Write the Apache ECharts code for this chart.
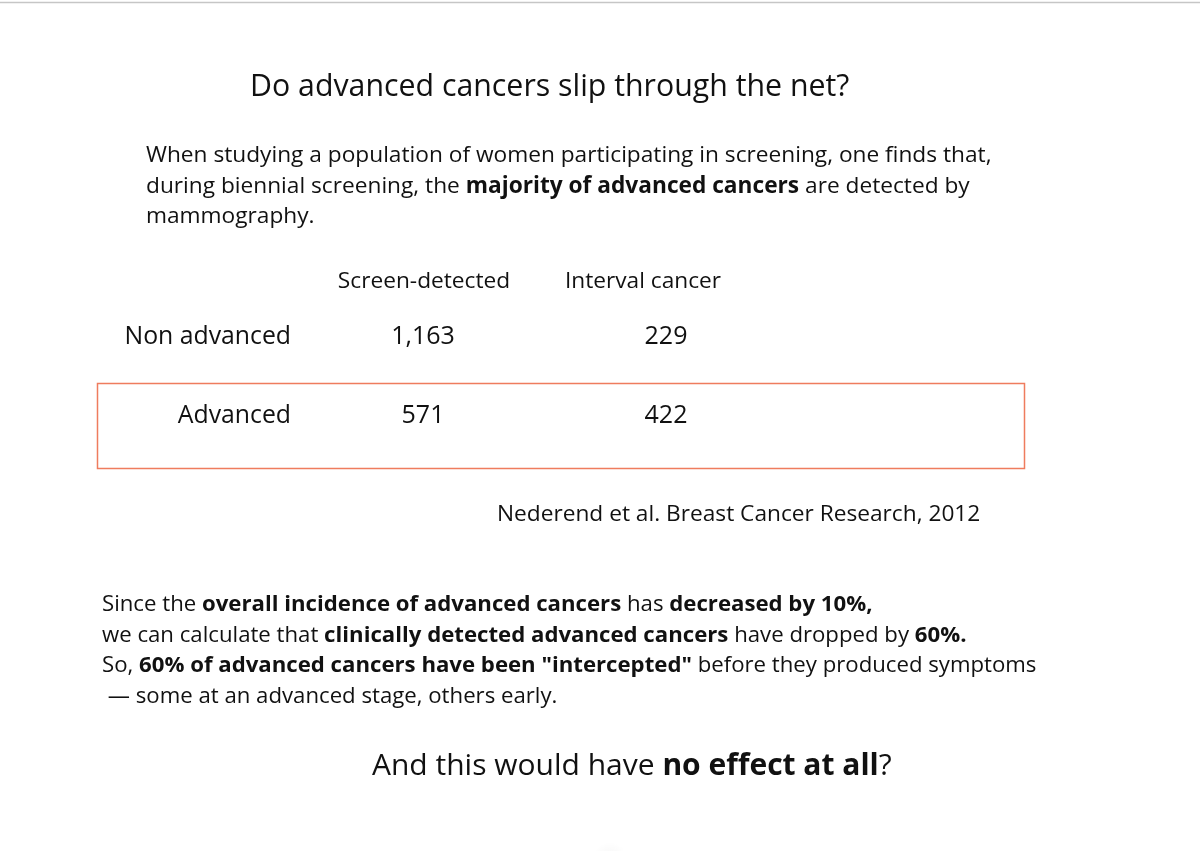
<!DOCTYPE html>
<html>
<head>
<meta charset="utf-8">
<title>Do advanced cancers slip through the net?</title>
<script src="https://cdn.jsdelivr.net/npm/echarts@6/dist/echarts.min.js"></script>
<style>
  html, body { margin: 0; padding: 0; background: #fff; }
  #chart { width: 1200px; height: 851px; }
</style>
</head>
<body>
<div id="chart"></div>
<script>
// table data
const stages = ["Non advanced", "Advanced"];
const detection = ["Screen-detected", "Interval cancer"];
const screenDetected = [1163, 571];
const intervalCancer = [229, 422];

// slide texts ({b|...} = bold)
const titleText = "Do advanced cancers slip through the net?";
const introLines = [
    "When studying a population of women participating in screening, one finds that,",
    "during biennial screening, the {b|majority of advanced cancers} are detected by",
    "mammography."
];
const sourceText = "Nederend et al. Breast Cancer Research, 2012";
const outroLines = [
    "Since the {b|overall incidence of advanced cancers} has {b|decreased by 10%,}",
    "we can calculate that {b|clinically detected advanced cancers} have dropped by {b|60%.}",
    "So, {b|60% of advanced cancers have been \"intercepted\"} before they produced symptoms",
    " \u2014 some at an advanced stage, others early."
];
const questionText = "And this would have {b|no effect at all}?";

const FONT = '"Open Sans", "DejaVu Sans", sans-serif';
const INK = "#111";

function fmt(n){
    return n.toLocaleString("en-US");
}

function textLine(str, x, y, size){
    return {
        type: "text",
        x: x,
        y: y,
        style: {
            text: str,
            fill: INK,
            fontFamily: FONT,
            fontSize: size,
            verticalAlign: "middle",
            rich: {
                b: { fontFamily: FONT, fontSize: size, fontWeight: "bold", fill: INK }
            }
        }
    };
}

const graphics = [];
graphics.push({
    type: "line",
    shape: { x1: 0, y1: 2.5, x2: 1200, y2: 2.5 },
    style: { stroke: "#c6c6c6", lineWidth: 1.5 }
});
graphics.push(textLine(titleText, 250, 87, 30.3));
introLines.forEach((l, i) => graphics.push(textLine(l, 146, 156 + i * 30.5, 22.7)));
graphics.push({
    type: "rect",
    shape: { x: 97.5, y: 383.5, width: 927, height: 85 },
    style: { fill: "none", stroke: "#ef7c5e", lineWidth: 1.5 }
});
graphics.push(textLine(sourceText, 497, 515, 22.7));
outroLines.forEach((l, i) => graphics.push(textLine(l, 102, 605 + i * 30.5, 22.2)));
graphics.push(textLine(questionText, 372, 766, 30));
graphics.push({
    type: "ellipse",
    shape: { cx: 610, cy: 860, rx: 300, ry: 18 },
    style: {
        fill: {
            type: "radial", x: 0.5, y: 0.5, r: 0.5,
            colorStops: [
                { offset: 0, color: "rgba(0,0,0,0.04)" },
                { offset: 1, color: "rgba(0,0,0,0)" }
            ]
        }
    },
    silent: true
});

const cells = [];
stages.forEach((s, r) => {
    cells.push([detection[0], s, screenDetected[r]]);
    cells.push([detection[1], s, intervalCancer[r]]);
});

const chart = echarts.init(document.getElementById("chart"), null, { renderer: "canvas" });
chart.setOption({
    backgroundColor: "#ffffff",
    animation: false,
    textStyle: { fontFamily: FONT },
    grid: { left: 301.5, top: 297.5, width: 486, height: 158 },
    xAxis: {
        type: "category",
        position: "top",
        data: detection,
        axisLine: { show: false },
        axisTick: { show: false },
        splitLine: { show: false },
        axisLabel: {
            margin: 4,
            formatter: v => v === detection[0] ? "{a|" + v + "}" : "{c|" + v + "}",
            rich: {
                a: { fontFamily: FONT, fontSize: 22.7, color: INK, padding: [0, 0, 0, 2] },
                c: { fontFamily: FONT, fontSize: 22.7, color: INK, padding: [0, 46, 0, 0] }
            }
        }
    },
    yAxis: {
        type: "category",
        inverse: true,
        data: stages,
        axisLine: { show: false },
        axisTick: { show: false },
        splitLine: { show: false },
        axisLabel: { margin: 10.5, fontFamily: FONT, fontSize: 24.8, color: INK }
    },
    series: [{
        type: "scatter",
        data: cells,
        symbolSize: 1,
        itemStyle: { color: "#ffffff", opacity: 1 },
        label: {
            show: true,
            position: "inside",
            formatter: p => fmt(p.value[2]),
            fontFamily: FONT,
            fontSize: 25,
            color: INK,
            textBorderWidth: 0
        },
        silent: true
    }],
    graphic: graphics
});
</script>
</body>
</html>
